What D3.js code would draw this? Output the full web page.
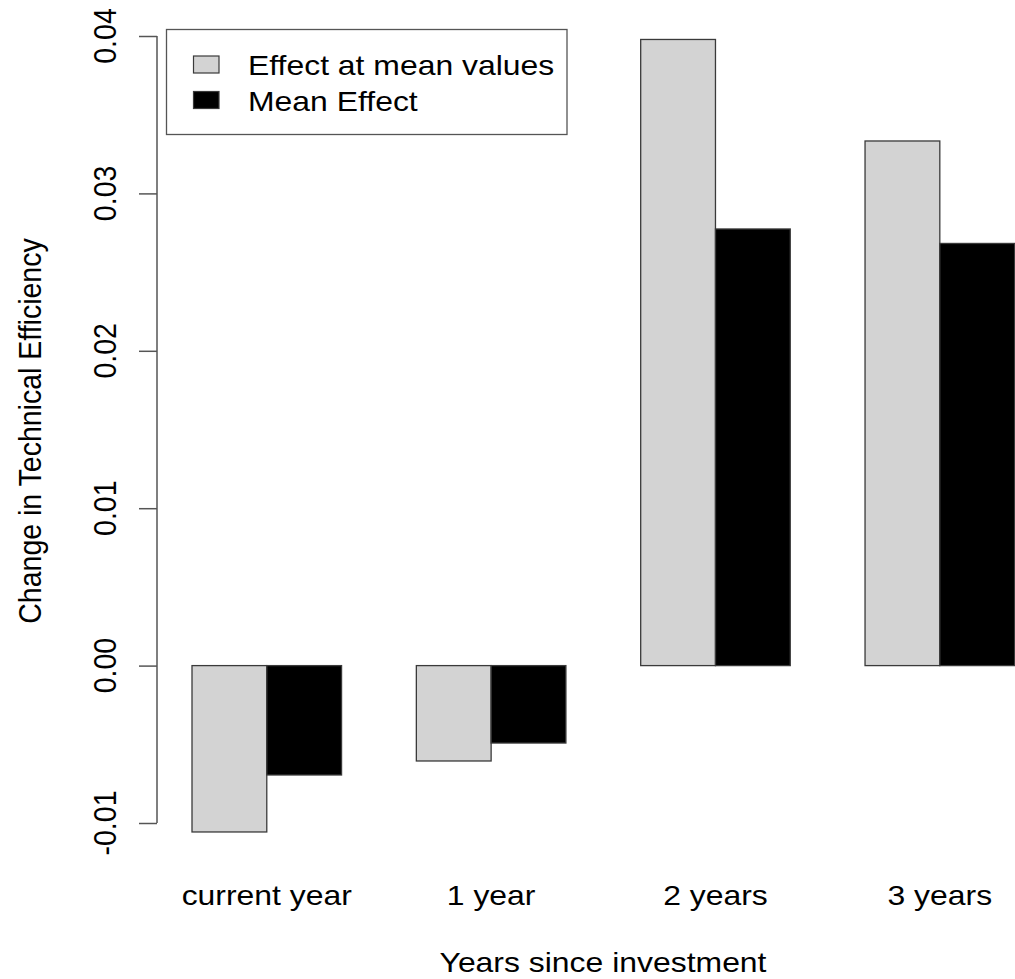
<!DOCTYPE html>
<html>
<head>
<meta charset="utf-8">
<script src="https://cdn.jsdelivr.net/npm/d3@7"></script>
<style>
  html, body { margin: 0; padding: 0; background: #fff; }
  svg { display: block; }
  text { font-family: "Liberation Sans", Arial, Helvetica, sans-serif; fill: #000; }
</style>
</head>
<body>
<svg id="chart" width="1015" height="979"></svg>
<script>
// ---- data ----
const categories = ["current year", "1 year", "2 years", "3 years"];
const seriesNames = ["Effect at mean values", "Mean Effect"];
const effectAtMean = [-0.01057, -0.00606, 0.03978, 0.03333];
const meanEffect = [-0.00695, -0.00492, 0.02774, 0.02682];
const yTicks = [-0.01, 0.00, 0.01, 0.02, 0.03, 0.04];
const yTickLabels = ["-0.01", "0.00", "0.01", "0.02", "0.03", "0.04"];
const seriesColors = ["#d3d3d3", "#000000"];
const xTitle = "Years since investment";
const yTitle = "Change in Technical Efficiency";

// ---- layout ----
const SX = 1.12;      // horizontal stretch of the reference rendering
const FS = 28.5;
const svg = d3.select("#chart");

const y = d3.scaleLinear().domain([-0.01, 0.04]).range([823, 36]);
const x0 = d3.scaleBand().domain(categories).range([192, 1014.6]).paddingInner(1/3).paddingOuter(0);
const x1 = d3.scaleBand().domain(seriesNames).range([0, x0.bandwidth()]);

const values = [effectAtMean, meanEffect];

function txt(g, s, tx, ty, anchor, rot) {
  return g.append("text")
    .attr("transform", `translate(${tx},${ty}) scale(${SX},1)` + (rot ? ` rotate(${rot})` : ""))
    .attr("text-anchor", anchor || "middle")
    .attr("font-size", FS)
    .text(s);
}

// bars
const groups = svg.append("g").selectAll("g")
  .data(categories).join("g")
  .attr("transform", d => `translate(${x0(d)},0)`);

groups.selectAll("rect")
  .data((d, i) => seriesNames.map((s, j) => ({ s, v: values[j][i], j })))
  .join("rect")
  .attr("x", d => x1(d.s))
  .attr("width", x1.bandwidth())
  .attr("y", d => y(Math.max(0, d.v)))
  .attr("height", d => Math.abs(y(d.v) - y(0)))
  .attr("fill", d => seriesColors[d.j])
  .attr("stroke", "#3a3a3a")
  .attr("stroke-width", 1.3);

// y axis
const axisX = 157;
const yAxis = d3.axisLeft(y).tickValues(yTicks).tickSize(18).tickFormat("");
const ag = svg.append("g").attr("transform", `translate(${axisX},0)`).call(yAxis);
ag.select(".domain").attr("d", `M-0,${y(0.04)}V${y(-0.01)}`).attr("stroke", "#555").attr("stroke-width", 1.5);
ag.selectAll(".tick line").attr("stroke", "#555").attr("stroke-width", 1.5);

yTicks.forEach((t, i) => {
  txt(svg, yTickLabels[i], 115.5, y(t), "middle", -90);
});

// category labels
categories.forEach(c => {
  txt(svg, c, x0(c) + x0.bandwidth() / 2, 905);
});

// axis titles
txt(svg, xTitle, 603, 972);
txt(svg, yTitle, 41, 431, "middle", -90);

// legend
const lg = svg.append("g");
lg.append("rect").attr("x", 166.5).attr("y", 29.5).attr("width", 400.5).attr("height", 105)
  .attr("fill", "#fff").attr("stroke", "#555").attr("stroke-width", 1.3);
seriesNames.forEach((s, j) => {
  const cy = 64.5 + j * 35.5;
  lg.append("rect").attr("x", 193.5).attr("y", cy - 8.5).attr("width", 25.5).attr("height", 17)
    .attr("fill", seriesColors[j]).attr("stroke", "#3a3a3a").attr("stroke-width", 1.2);
  txt(lg, s, 248, cy + 10.5, "start");
});
</script>
</body>
</html>
